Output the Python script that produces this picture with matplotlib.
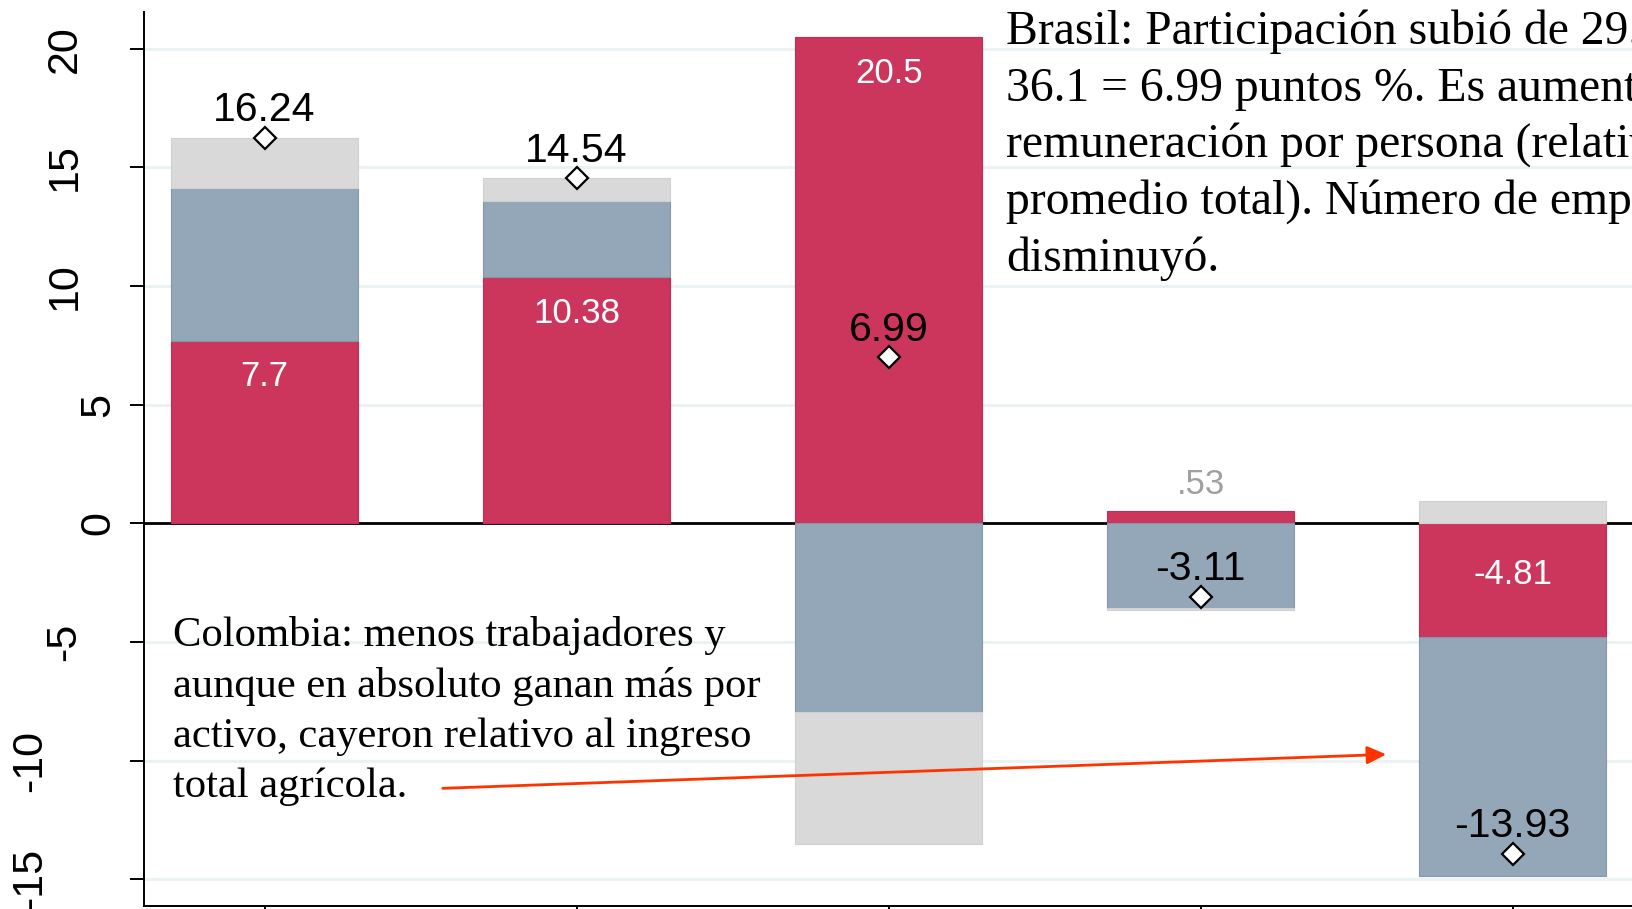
import matplotlib
matplotlib.use("Agg")
import matplotlib.pyplot as plt
import numpy as np

# components of the change per country (stacked: positives up, negatives down)
positions = [1, 2, 3, 4, 5]
red_part = [7.7, 10.38, 20.5, 0.53, -4.81]
blue_part = [6.42, 3.22, -7.94, -3.56, -10.04]
grey_part = [2.12, 0.94, -5.57, -0.08, 0.92]
totals = [16.24, 14.54, 6.99, -3.11, -13.93]
yticks = [-15, -10, -5, 0, 5, 10, 15, 20]

note_brasil = ("Brasil: Participación subió de 29.11 a\n"
               "36.1 = 6.99 puntos %. Es aumento de\n"
               "remuneración por persona (relativo al\n"
               "promedio total). Número de empleados\n"
               "disminuyó.")
note_colombia = ("Colombia: menos trabajadores y\n"
                 "aunque en absoluto ganan más por\n"
                 "activo, cayeron relativo al ingreso\n"
                 "total agrícola.")

RED = "#CD365C"
BLUE = "#94A7B8"
GREY = "#D9D9D9"
SANS = ["Liberation Sans", "DejaVu Sans"]
SERIF = ["Liberation Serif", "DejaVu Serif"]


def fmt(v):
    s = "{:g}".format(v)
    return s.replace("0.", ".", 1) if s.startswith("0.") else s


fig = plt.figure(figsize=(16.32, 9.09), dpi=100)
# axes runs past the right edge, the picture is a crop of a wider chart
ax = fig.add_axes([144 / 1632, 3 / 909, 1680.6 / 1632, 893.7 / 909])
ax.set_xlim(0.6135, 6.0)
ax.set_ylim(-16.13, 21.54)

for y in yticks:
    ax.axhline(y, color="#EAF2F3", lw=2.2, zorder=0)
ax.axhline(0, color="black", lw=2.0, zorder=1)

pos_base = np.zeros(len(positions))
neg_base = np.zeros(len(positions))
for vals, col, ec in [(red_part, RED, "#C42A52"), (blue_part, BLUE, "#8396A9"),
                      (grey_part, GREY, "#D0D0D0")]:
    vals = np.array(vals)
    bottom = np.where(vals >= 0, pos_base, neg_base)
    ax.bar(positions, vals, bottom=bottom, width=0.6, color=col,
           edgecolor=ec, linewidth=0.8, zorder=2)
    pos_base = pos_base + np.where(vals >= 0, vals, 0)
    neg_base = neg_base + np.where(vals < 0, vals, 0)

# labels for the red part
for x, v in zip(positions, red_part):
    if abs(v) < 1:
        ax.annotate(fmt(v), (x, v), xytext=(0, 19), textcoords="offset points",
                    ha="center", va="center", fontsize=25, color="#A0A0A0",
                    family=SANS, zorder=4)
    else:
        dy = -26 if v > 0 else 45
        ax.annotate(fmt(v), (x, v), xytext=(0, dy), textcoords="offset points",
                    ha="center", va="center", fontsize=25, color="white",
                    family=SANS, zorder=4)

ax.plot(positions, totals, "D", mfc="white", mec="black", ms=11, mew=1.6,
        zorder=5)
for x, v in zip(positions, totals):
    ax.annotate(fmt(v), (x, v), xytext=(0, 12), textcoords="offset points",
                ha="center", va="baseline", fontsize=29.5, color="black",
                family=SANS, zorder=6)

ax.text(3.3756, 21.66, note_brasil, ha="left", va="top", fontsize=34.3,
        family=SERIF, color="black", linespacing=1.35, zorder=6)
ax.text(0.7055, -3.91, note_colombia, ha="left", va="top", fontsize=30.7,
        family=SERIF, color="black", linespacing=1.39, zorder=6)

ax.annotate("", xy=(4.595, -9.74), xytext=(1.571, -11.17),
            arrowprops=dict(arrowstyle="-|>,head_length=0.575,head_width=0.27",
                            mutation_scale=20, color="#FF3300", lw=2.0,
                            shrinkA=0, shrinkB=0), zorder=6)

# axes styling
for side in ["top", "right"]:
    ax.spines[side].set_visible(False)
for side in ["left", "bottom"]:
    ax.spines[side].set_linewidth(1.4)
ax.set_xticks(positions)
ax.set_xticklabels([])
ax.set_yticks(yticks)
ax.set_yticklabels([])
ax.tick_params(direction="out", length=10, width=1.4)

# vertical y labels, shifted left by label length as in the original
ytrans = ax.get_yaxis_transform()
for y in yticks:
    lab = str(y)
    off = 18.3 + 24.5 * (len(lab) - 1)
    ax.annotate(lab, (0, y), xycoords=ytrans, xytext=(-off, 0),
                textcoords="offset points", rotation=90, ha="right",
                va="center", fontsize=31, family=SANS, annotation_clip=False)

fig.savefig("out.png", dpi=100)
